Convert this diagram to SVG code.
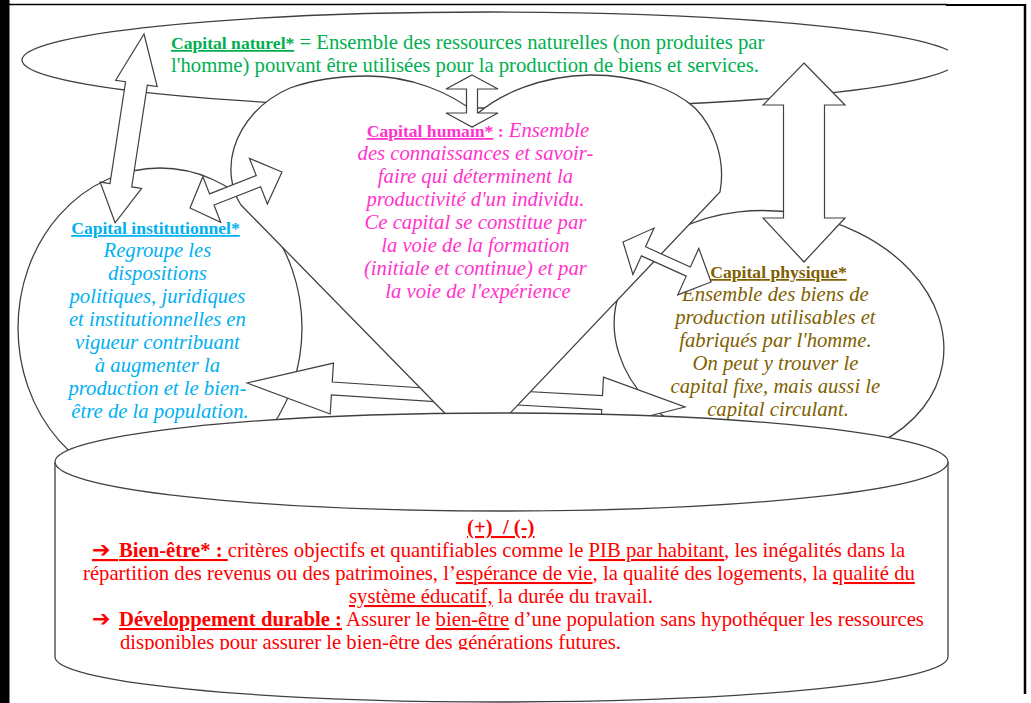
<svg xmlns="http://www.w3.org/2000/svg" width="1031" height="703" viewBox="0 0 1031 703">
<defs>
<clipPath id="clipTop"><rect x="0" y="0" width="948" height="703"/></clipPath>
<clipPath id="clipText"><rect x="0" y="0" width="1031" height="650"/></clipPath>
</defs>
<style>
.shape{fill:#fff;stroke:#404040;stroke-width:1.3}
.arrow{fill:#fff;stroke:#404040;stroke-width:1.2}
text{font-family:"Liberation Serif","Times New Roman",serif;font-size:20.7px}
.h{font-weight:bold;font-size:17.6px;text-decoration:underline}
.hb{font-weight:bold;font-size:17.6px}
.it{font-style:italic}
.u{text-decoration:underline}
.b{font-weight:bold}
.dg{font-family:"DejaVu Sans",sans-serif;font-weight:bold;font-size:22px}
.green{fill:#00B050}
.pink{fill:#FF33CC}
.blue{fill:#00B0F0}
.olive{fill:#7F6000}
.red{fill:#FF0000}
</style>
<rect x="0" y="0" width="1031" height="703" fill="#ffffff"/>
<g id="node-capital-naturel">
<ellipse class="shape" cx="490" cy="60" rx="468" ry="48" clip-path="url(#clipTop)"/>
<text class="green" x="171" y="49"><tspan class="h">Capital naturel*</tspan> = Ensemble des ressources naturelles (non produites par</text>
<text class="green" x="171" y="72">l'homme) pouvant être utilisées pour la production de biens et services.</text>
</g>
<g id="node-capital-institutionnel">
<ellipse class="shape" cx="160" cy="328" rx="142" ry="160"/>
<text class="blue h" x="155.5" y="234" text-anchor="middle">Capital institutionnel*</text>
<text class="blue it" text-anchor="middle">
<tspan x="160" y="257">Regroupe les</tspan>
<tspan x="160" y="280">dispositions</tspan>
<tspan x="160" y="303">politiques, juridiques</tspan>
<tspan x="160" y="326">et institutionnelles en</tspan>
<tspan x="160" y="349">vigueur contribuant</tspan>
<tspan x="160" y="372">à augmenter la</tspan>
<tspan x="160" y="395">production et le bien-</tspan>
<tspan x="160" y="418">être de la population.</tspan>
</text>
</g>
<g id="node-capital-physique">
<ellipse class="shape" cx="779" cy="336" rx="166" ry="124" transform="rotate(10 779 336)"/>
<text class="olive h" x="778.5" y="278" text-anchor="middle">Capital physique*</text>
<text class="olive it" text-anchor="middle">
<tspan x="778" y="301">Ensemble des biens de</tspan>
<tspan x="778" y="324">production utilisables et</tspan>
<tspan x="778" y="347">fabriqués par l'homme.</tspan>
<tspan x="778" y="370">On peut y trouver le</tspan>
<tspan x="778" y="393">capital fixe, mais aussi le</tspan>
<tspan x="778" y="416">capital circulant.</tspan>
</text>
</g>
<g id="connectors-back">
<polygon class="arrow" transform="translate(247,383) rotate(3.72)" points="0,0 85,-25.5 85,-6.5 223,-6.5 223,6.5 85,6.5 85,25.5"/>
<polygon class="arrow" transform="translate(685,407) rotate(183.07)" points="0,0 83,-25.5 83,-7 205,-7 205,7 83,7 83,25.5"/>
</g>
<g id="node-capital-humain">
<path class="shape" d="M478,447 L241,205 C231,190 228,168 234,148 C242,122 262,100 290,88 C315,79 340,76 368,76 C410,76 450,92 477,114 C500,94 540,76 590,75 C640,75 675,90 695,108 C714,127 726,160 720,192 Z"/>
<text class="pink" x="478" y="137" text-anchor="middle"><tspan class="h">Capital humain*</tspan><tspan class="hb"> :</tspan><tspan class="it"> Ensemble</tspan></text>
<text class="pink it" text-anchor="middle">
<tspan x="478" y="160">des connaissances et savoir-</tspan>
<tspan x="478" y="183">faire qui déterminent la</tspan>
<tspan x="478" y="206">productivité d'un individu.</tspan>
<tspan x="478" y="229">Ce capital se constitue par</tspan>
<tspan x="478" y="252">la voie de la formation</tspan>
<tspan x="478" y="275">(initiale et continue) et par</tspan>
<tspan x="478" y="298">la voie de l'expérience</tspan>
</text>
</g>
<g id="connectors">
<polygon class="arrow" transform="translate(144,34) rotate(98.7)" points="0,0 50,-21 50,-11 153,-11 153,-21 191,0 153,21 153,11 50,11 50,21"/>
<polygon class="arrow" points="472,75 498,89 477.5,89 477.5,113 498,113 472,127 446,113 466.5,113 466.5,89 446,89"/>
<polygon class="arrow" points="804,63 845,105 824.5,105 824.5,218 845,218 804,262 763,218 783.5,218 783.5,105 763,105"/>
<polygon class="arrow" transform="translate(190,208) rotate(-21.4)" points="0,0 23.4,-24.5 23.4,-6 73.5,-6 73.5,-24.5 98.8,0 73.5,24.5 73.5,6 23.4,6 23.4,24.5"/>
<polygon class="arrow" transform="translate(623,242) rotate(24.4)" points="0,0 22.5,-25.5 22.5,-5 71.7,-5 71.7,-25.5 96.7,0 71.7,25.5 71.7,5 22.5,5 22.5,25.5"/>
</g>
<g id="node-bien-etre">
<path class="shape" d="M55,462 V657 A446.5,45 0 0 0 948,657 V462"/>
<ellipse class="shape" cx="501.5" cy="462" rx="446.5" ry="49"/>
<text class="red b u" x="467" y="534" xml:space="preserve">(+)  / (-)</text>
<text class="red" y="557"><tspan class="dg u" x="92">➔ </tspan><tspan class="b u" x="119">Bien-être* : </tspan>critères objectifs et quantifiables comme le <tspan class="u">PIB par habitant</tspan>, les inégalités dans la</text>
<text class="red" x="83" y="580">répartition des revenus ou des patrimoines, l’<tspan class="u">espérance de vie</tspan>, la qualité des logements, la <tspan class="u">qualité du</tspan></text>
<text class="red" x="349" y="603"><tspan class="u">système éducatif,</tspan> la durée du travail.</text>
<text class="red" y="626"><tspan class="dg" x="92">➔</tspan><tspan class="b u" x="119">Développement durable :</tspan> Assurer le <tspan class="u">bien-être</tspan> d’une population sans hypothéquer les ressources</text>
<text class="red" x="120" y="649" clip-path="url(#clipText)">disponibles pour assurer le bien-être des générations futures.</text>
</g>
<g id="frame">
<rect x="0" y="0" width="9" height="703" fill="#000000" stroke="#000000" stroke-width="1"/>
<line x1="0" y1="4.5" x2="947" y2="4.5" stroke="#000" stroke-width="1.5"/>
<line x1="946" y1="5" x2="1026" y2="5" stroke="#000" stroke-width="2"/>
<line x1="1025" y1="4" x2="1025" y2="694" stroke="#000" stroke-width="2.5"/>
</g>
</svg>
